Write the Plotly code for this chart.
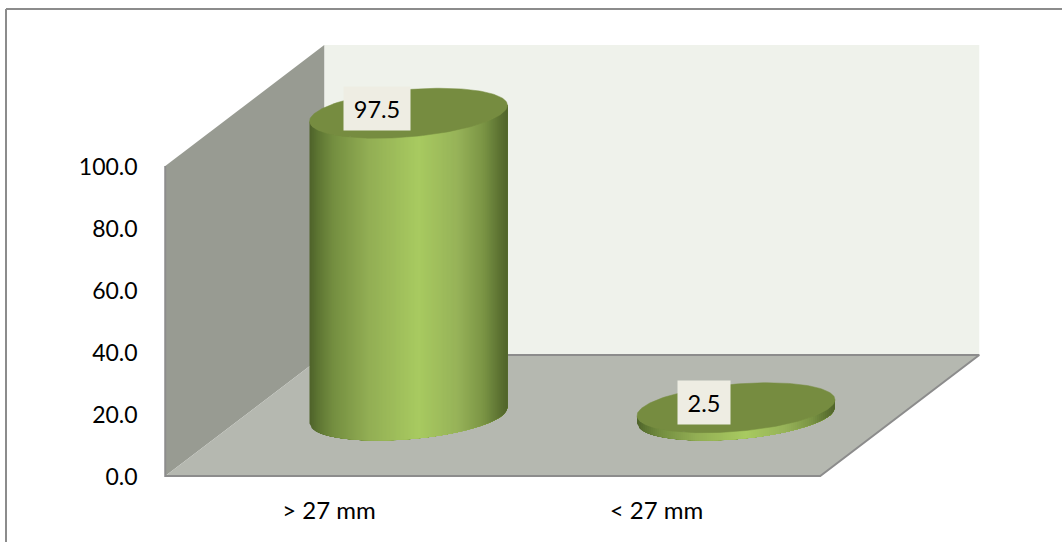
import numpy as np
import plotly.graph_objects as go

# Chart data
categories = ["> 27 mm", "< 27 mm"]
values = [97.5, 2.5]
value_labels = ["97.5", "2.5"]
y_ticks = [0, 20, 40, 60, 80, 100]
y_tick_labels = ["0.0", "20.0", "40.0", "60.0", "80.0", "100.0"]

# Canvas and scale factors (pixels per axis unit)
W, H = 1062, 542
X0_PX, Y0_PX = 329.0, 476.0
PX_PER_CAT, PX_PER_Y = 327.5, 3.1

# Oblique projection of the chart box, in axis units
DEPTH_X = 159.0 / PX_PER_CAT
DEPTH_Y = 121.0 / PX_PER_Y
X_LO, X_HI, Y_LO, Y_HI = -0.5, 1.5, 0.0, 100.0

# Cylinder ellipse radii and the tilt of its long axis, in axis units
RX = 99.0 / PX_PER_CAT
RY = 23.7 / PX_PER_Y
TILT = 8.0 / PX_PER_Y

WALL_BACK, WALL_SIDE, FLOOR = "#eff2eb", "#989b92", "#b5b8b0"
EDGE = "#8c8c8c"
TOP_COLOR = "#768c40"
LABEL_BG = "#eeede3"
FONT = "Lato"

# Horizontal shading across the cylinder side
SHADE_T = [0.0, 0.04, 0.12, 0.30, 0.55, 0.75, 0.88, 0.96, 1.0]
SHADE_RGB = [(78, 98, 42), (92, 116, 50), (116, 142, 64), (146, 174, 84),
             (168, 202, 96), (150, 178, 88), (122, 148, 68), (92, 114, 50), (80, 100, 42)]


def shade(t):
    c = [np.interp(t, SHADE_T, [rgb[i] for rgb in SHADE_RGB]) for i in range(3)]
    return "rgb(%d,%d,%d)" % tuple(round(v) for v in c)


fig = go.Figure()


def polygon(xs, ys, color, line_width=0.0):
    fig.add_trace(go.Scatter(
        x=list(xs), y=list(ys), mode="lines", fill="toself", fillcolor=color,
        line=dict(color=color, width=line_width), hoverinfo="skip", showlegend=False,
    ))


def edge(xs, ys):
    fig.add_trace(go.Scatter(
        x=xs, y=ys, mode="lines", line=dict(color=EDGE, width=2),
        hoverinfo="skip", showlegend=False,
    ))


# Box walls and floor
polygon([X_LO + DEPTH_X, X_HI + DEPTH_X, X_HI + DEPTH_X, X_LO + DEPTH_X],
        [DEPTH_Y, DEPTH_Y, Y_HI + DEPTH_Y, Y_HI + DEPTH_Y], WALL_BACK)
polygon([X_LO, X_LO + DEPTH_X, X_LO + DEPTH_X, X_LO],
        [Y_LO, DEPTH_Y, Y_HI + DEPTH_Y, Y_HI], WALL_SIDE)
polygon([X_LO, X_HI, X_HI + DEPTH_X, X_LO + DEPTH_X],
        [Y_LO, Y_LO, DEPTH_Y, DEPTH_Y], FLOOR)
edge([X_LO + DEPTH_X, X_HI + DEPTH_X, X_HI, X_LO, X_LO],
     [DEPTH_Y, DEPTH_Y, Y_LO, Y_LO, Y_HI])

# Cylinders: each shading band runs on to the right-hand edge and the next band
# paints over it, so no seams open between neighbouring bands
N_STRIPS = 99
for i, value in enumerate(values):
    cx = i + DEPTH_X / 2
    base = DEPTH_Y / 2
    top = base + value
    band_edges = np.linspace(-1, 1, N_STRIPS + 1)
    for a, b in zip(band_edges[:-1], band_edges[1:]):
        us = np.linspace(a, 1, max(3, int((1 - a) * 30)))
        low = TILT * us - RY * np.sqrt(np.clip(1 - us ** 2, 0, 1))
        xs = cx + RX * us
        polygon(np.r_[xs, xs[::-1]], np.r_[base + low, (top + low)[::-1]],
                shade((a + b + 2) / 4))
    th = np.linspace(0, 2 * np.pi, 181)
    polygon(cx + RX * np.cos(th), top + TILT * np.cos(th) + RY * np.sin(th), TOP_COLOR, 0.5)

# Value labels sitting on the cylinder tops
label_widths = [64, 50]
annotations = [
    dict(x=i + DEPTH_X / 2, y=DEPTH_Y / 2 + v, text=t, showarrow=False,
         xshift=-32, yshift=5, width=w, height=41, bgcolor=LABEL_BG,
         font=dict(family=FONT, size=23.5, color="#000000"))
    for i, (v, t, w) in enumerate(zip(values, value_labels, label_widths))
]

# Outer frame: only the top and left sides are visible
frame_y, frame_x = 1 - 9 / H, 6 / W
shapes = [
    dict(type="line", xref="paper", yref="paper", x0=frame_x, x1=1, y0=frame_y, y1=frame_y,
         line=dict(color=EDGE, width=2)),
    dict(type="line", xref="paper", yref="paper", x0=frame_x, x1=frame_x, y0=0, y1=frame_y,
         line=dict(color=EDGE, width=2)),
]

fig.update_layout(
    width=W, height=H, autosize=False,
    margin=dict(l=0, r=0, t=0, b=0, pad=0),
    paper_bgcolor="#ffffff", plot_bgcolor="#ffffff",
    showlegend=False, annotations=annotations, shapes=shapes,
    font=dict(family=FONT, size=23, color="#000000"),
    xaxis=dict(
        range=[-X0_PX / PX_PER_CAT, (W - X0_PX) / PX_PER_CAT],
        domain=[0, 1], anchor="free", position=(H - Y0_PX) / H,
        tickmode="array", tickvals=list(range(len(categories))), ticktext=categories,
        tickfont=dict(family=FONT, size=24, color="#000000"),
        ticks="outside", ticklen=13, tickcolor="rgba(0,0,0,0)",
        showgrid=False, zeroline=False, showline=False, fixedrange=True,
    ),
    yaxis=dict(
        range=[-(H - Y0_PX) / PX_PER_Y, Y0_PX / PX_PER_Y],
        domain=[0, 1], anchor="free", position=(X0_PX - 0.5 * PX_PER_CAT) / W,
        tickmode="array", tickvals=y_ticks, ticktext=y_tick_labels,
        tickfont=dict(family=FONT, size=23, color="#000000"),
        ticks="outside", ticklen=23, tickcolor="rgba(0,0,0,0)", ticklabelshift=1,
        showgrid=False, zeroline=False, showline=False, fixedrange=True,
    ),
)

fig.write_html("out.html", config={"displayModeBar": False})
